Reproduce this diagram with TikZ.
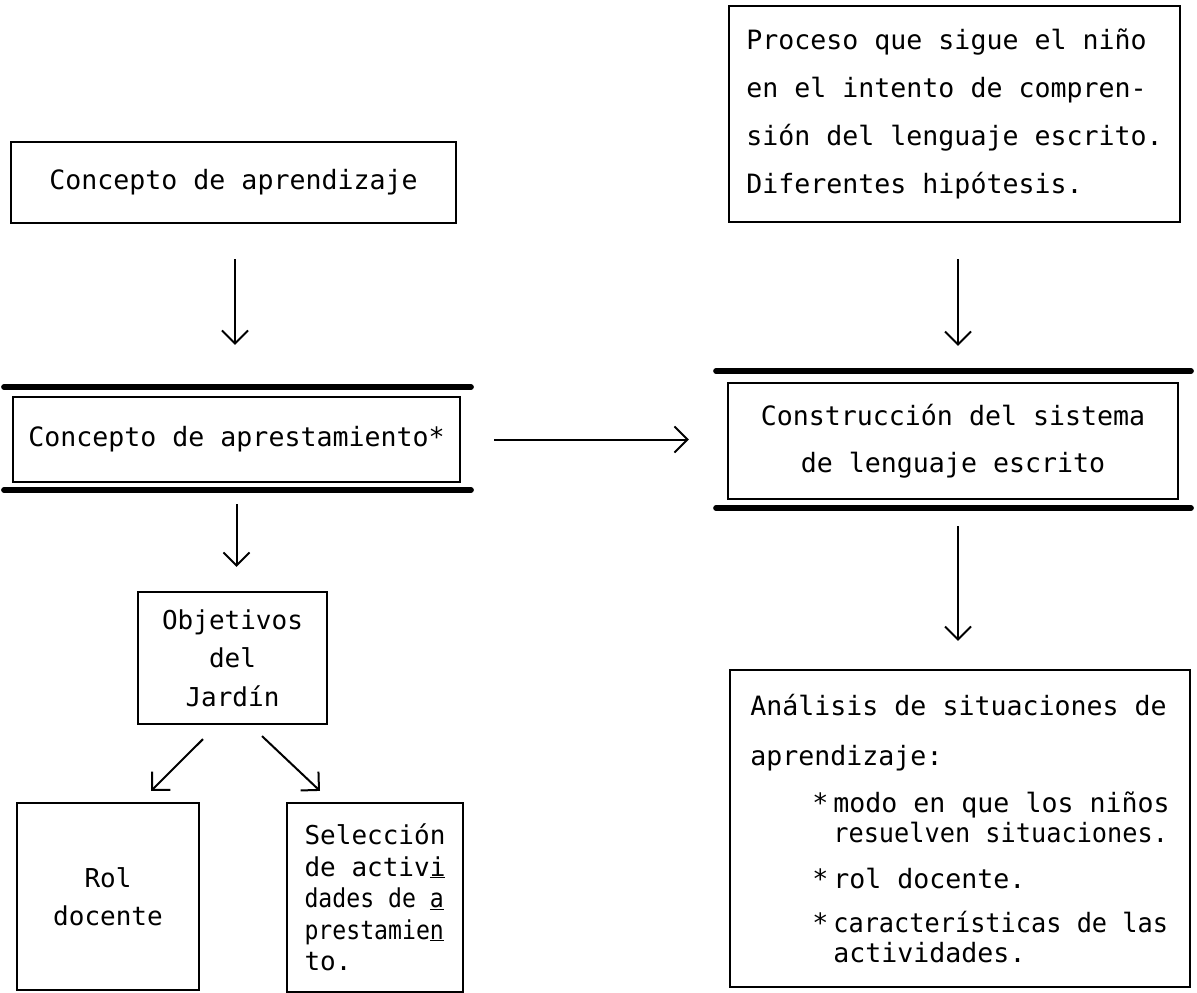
\documentclass[tikz,border=0pt]{standalone}
\usepackage{fontspec}
\usepackage{graphicx}
\setmainfont{DejaVu Sans Mono}
\setmonofont{DejaVu Sans Mono}
\usetikzlibrary{arrows.meta}
\tikzset{
  box/.style={draw, line width=2.2pt, inner sep=0pt, align=center, text=black,
    font=\fontsize{26.6}{38}\selectfont},
  conn/.style={line width=2pt, -{Straight Barb[length=13pt,width=26pt]}},
  bar/.style={line width=5.5pt, line cap=round},
}
\begin{document}
\begin{tikzpicture}[x=1pt,y=-1pt]
\useasboundingbox[fill=white] (0,0) rectangle (1197,993);

% boxes
\node[box, minimum width=445pt, minimum height=81pt] (apr) at (233.5,182.5) {Concepto de aprendizaje};
\node[box, align=left, minimum width=451pt, minimum height=216pt,
  font=\fontsize{26.6}{48}\selectfont] (proc) at (954.5,114)
  {Proceso que sigue el niño\\en el intento de compren-\\sión del lenguaje escrito.\\Diferentes hipótesis.};
\node[box, minimum width=447pt, minimum height=85pt] (apL) at (236.5,439.5) {Concepto de aprestamiento*};
\node[box, minimum width=450pt, minimum height=116pt,
  font=\fontsize{26.6}{47}\selectfont] (apR) at (953,441) {Construcción del sistema\\de lenguaje escrito};
\node[box, minimum width=189pt, minimum height=132pt,
  font=\fontsize{26}{38.5}\selectfont] (obj) at (232.5,658) {Objetivos\\del\\Jardín};
\node[box, minimum width=182pt, minimum height=187pt,
  font=\fontsize{26}{38}\selectfont] (rol) at (108,896.5) {Rol\\docente};
\node[box, align=left, minimum width=176pt, minimum height=189pt,
  font=\fontsize{26}{31.5}\selectfont] (sel) at (375,897.5)
  {Selección\\de activ\underline{i}\\
   \scalebox{0.89}[1]{dades de \underline{a}}\\
   \scalebox{0.89}[1]{prestamie\underline{n}}\\to.};
\node[box, align=left, minimum width=460pt, minimum height=317pt,
  font=\fontsize{26.6}{30}\selectfont] (ana) at (960,828.5)
  {Análisis de situaciones de\\[20pt]
   aprendizaje:\\[17pt]
   \hspace*{62pt}\makebox[21pt][l]{*}modo en que los niños\\
   \hspace*{83pt}\scalebox{0.95}[1]{resuelven situaciones.}\\[16pt]
   \hspace*{62pt}\makebox[21pt][l]{*}rol docente.\\[14pt]
   \hspace*{62pt}\makebox[21pt][l]{*}\scalebox{0.95}[1]{características de las}\\
   \hspace*{83pt}actividades.};

% thick bars
\draw[bar] ([xshift=-8pt,yshift=9pt]apL.north west) -- ([xshift=10pt,yshift=9pt]apL.north east);
\draw[bar] ([xshift=-8pt,yshift=-7pt]apL.south west) -- ([xshift=10pt,yshift=-7pt]apL.south east);
\draw[bar] ([xshift=-11pt,yshift=11pt]apR.north west) -- ([xshift=12pt,yshift=11pt]apR.north east);
\draw[bar] ([xshift=-11pt,yshift=-8pt]apR.south west) -- ([xshift=12pt,yshift=-8pt]apR.south east);

% connectors
\draw[conn] ([xshift=1.5pt,yshift=-35pt]apr.south) -- ([xshift=-1.5pt,yshift=51pt]apL.north);
\draw[conn] ([xshift=3.5pt,yshift=-36pt]proc.south) -- ([xshift=5pt,yshift=36pt]apR.north);
\draw[conn] ([xshift=33pt]apL.east) -- ([xshift=-38pt]apL.east -| apR.west);
\draw[conn] ([yshift=-21pt]apL.south) -- ([yshift=24pt]apL.south |- obj.north);
\draw[conn] ([xshift=5pt,yshift=-26pt]apR.south) -- ([xshift=5pt,yshift=28pt]ana.north -| apR.south);
\draw[conn] ([xshift=-29.5pt,yshift=-14pt]obj.south) -- ([xshift=43pt,yshift=11pt]rol.north);
\draw[conn] ([xshift=29.5pt,yshift=-11pt]obj.south) -- ([xshift=-55pt,yshift=11pt]sel.north);
\end{tikzpicture}
\end{document}
